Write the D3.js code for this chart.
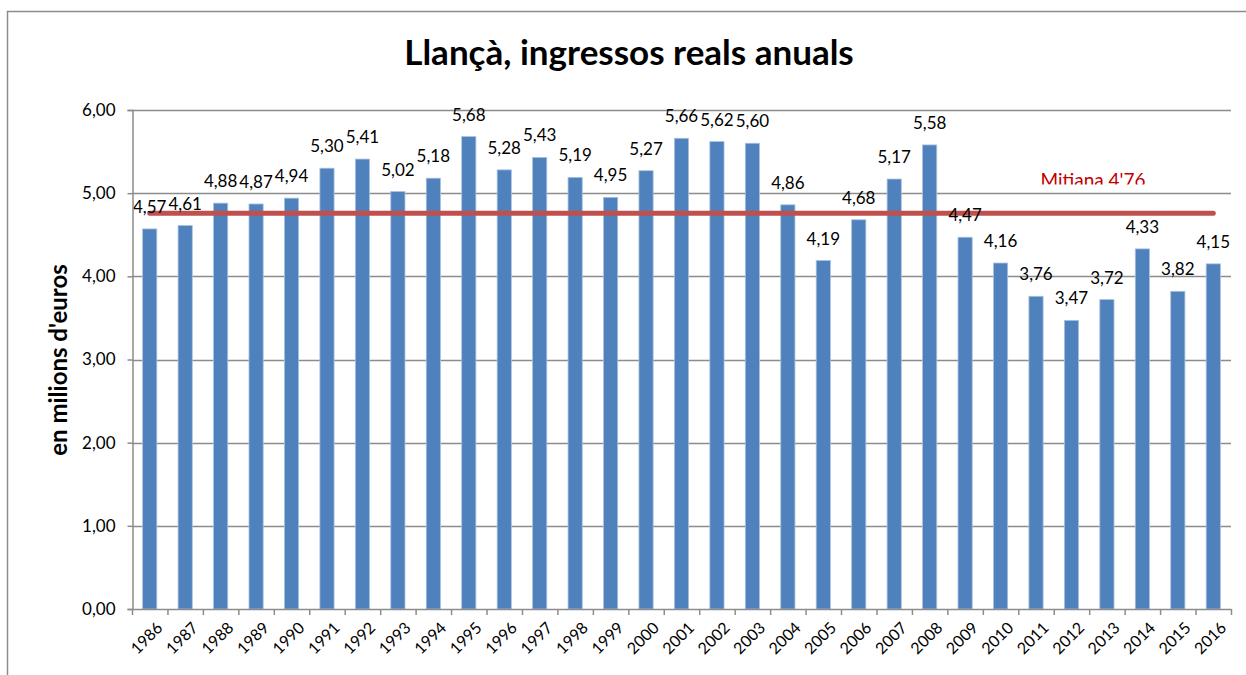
<!DOCTYPE html>
<html>
<head>
<meta charset="utf-8">
<script src="https://cdn.jsdelivr.net/npm/d3@7"></script>
<style>
  body { margin: 0; background: #fff; }
  text { font-family: Lato, "Open Sans", sans-serif; }
</style>
</head>
<body>
<div id="chart"></div>
<script>
var width  = 1246;
var height = 675;

// data
var years = ["1986","1987","1988","1989","1990","1991","1992","1993","1994","1995",
  "1996","1997","1998","1999","2000","2001","2002","2003","2004","2005","2006",
  "2007","2008","2009","2010","2011","2012","2013","2014","2015","2016"];
var ingressos = [4.57,4.61,4.88,4.87,4.94,5.30,5.41,5.02,5.18,5.68,
  5.28,5.43,5.19,4.95,5.27,5.66,5.62,5.60,4.86,4.19,4.68,
  5.17,5.58,4.47,4.16,3.76,3.47,3.72,4.33,3.82,4.15];
var mitjana = 4.76;
var yTicks = [0,1,2,3,4,5,6];

var margin = {left: 132, right: 15, top: 110, bottom: 66};

var svg = d3.select("#chart").append("svg")
  .attr("width", width)
  .attr("height", height);

// outer chart frame (only top & left visible)
svg.append("path")
  .attr("d", "M7.5,675 L7.5,11.5 L1246,11.5")
  .attr("fill", "none")
  .attr("stroke", "#8c8c8c")
  .attr("stroke-width", 1.5);

var x = d3.scaleBand()
  .domain(years)
  .range([margin.left, 1231])
  .paddingInner(0.6)
  .paddingOuter(0.3);

var y = d3.scaleLinear()
  .domain([0, 6])
  .range([609, margin.top]);

var fmt = function(v) { return d3.format(".2f")(v).replace(".", ","); };

// gridlines
svg.selectAll(".grid")
  .data(yTicks.slice(1))
  .enter().append("line")
  .attr("class", "grid")
  .attr("x1", margin.left).attr("x2", 1231)
  .attr("y1", function(d) { return Math.round(y(d)) + 0.5; })
  .attr("y2", function(d) { return Math.round(y(d)) + 0.5; })
  .attr("stroke", "#8c8c8c")
  .attr("stroke-width", 1.5);

// bars
svg.selectAll(".bar")
  .data(ingressos)
  .enter().append("rect")
  .attr("class", "bar")
  .attr("x", function(d, i) { return x(years[i]); })
  .attr("y", function(d) { return y(d); })
  .attr("width", x.bandwidth())
  .attr("height", function(d) { return y(0) - y(d); })
  .attr("fill", "#4f81bd")
  .attr("stroke", "#a9c1e0")
  .attr("stroke-width", 0.8);

// mean line
var line = d3.line()
  .x(function(d) { return x(d) + x.bandwidth() / 2; })
  .y(function() { return y(mitjana); });

svg.append("path")
  .datum(years)
  .attr("d", line)
  .attr("fill", "none")
  .attr("stroke", "#c0504d")
  .attr("stroke-width", 5)
  .attr("stroke-linecap", "round");

svg.append("clipPath").attr("id", "mclip")
  .append("rect").attr("x", 900).attr("y", 160).attr("width", 300).attr("height", 24.5);

svg.append("text")
  .attr("x", 1093)
  .attr("y", 186.5)
  .attr("text-anchor", "middle")
  .attr("clip-path", "url(#mclip)")
  .style("font-size", "19px")
  .style("fill", "#c00000")
  .text("Mitiana 4'76");

// value labels
svg.selectAll(".val")
  .data(ingressos)
  .enter().append("text")
  .attr("class", "val")
  .attr("x", function(d, i) { return x(years[i]) + x.bandwidth() / 2; })
  .attr("y", function(d) { return y(d) - 16; })
  .attr("text-anchor", "middle")
  .style("font-size", "17px")
  .style("fill", "#000")
  .text(fmt);

// y axis
var yAxis = d3.axisLeft(y)
  .tickValues(yTicks)
  .tickSize(5)
  .tickPadding(12)
  .tickFormat(fmt);

var gy = svg.append("g")
  .attr("transform", "translate(" + (margin.left + 0.5) + ",0)")
  .call(yAxis);
gy.select(".domain").attr("stroke", "#8c8c8c").attr("stroke-width", 1.5);
gy.selectAll(".tick line").attr("stroke", "#8c8c8c").attr("stroke-width", 1.5);
gy.selectAll(".tick text")
  .style("font-size", "17px")
  .style("font-family", "Lato, sans-serif")
  .attr("fill", "#000");

// x axis
svg.append("line")
  .attr("x1", margin.left).attr("x2", 1231.5)
  .attr("y1", 609.5).attr("y2", 609.5)
  .attr("stroke", "#8c8c8c")
  .attr("stroke-width", 1.5);

svg.selectAll(".xtick")
  .data(years.concat(["end"]))
  .enter().append("line")
  .attr("class", "xtick")
  .attr("x1", function(d, i) { return margin.left + i * (1231 - margin.left) / years.length + 0.5; })
  .attr("x2", function(d, i) { return margin.left + i * (1231 - margin.left) / years.length + 0.5; })
  .attr("y1", 609).attr("y2", 615)
  .attr("stroke", "#8c8c8c")
  .attr("stroke-width", 1.5);

svg.selectAll(".xlab")
  .data(years)
  .enter().append("text")
  .attr("class", "xlab")
  .attr("transform", function(d) {
    var cx = x(d) + x.bandwidth() / 2 + 6;
    return "translate(" + cx + ",621) rotate(-45)";
  })
  .attr("text-anchor", "end")
  .attr("dy", "0.7em")
  .style("font-size", "16px")
  .text(function(d) { return d; });

// title
svg.append("text")
  .attr("x", 629)
  .attr("y", 65)
  .attr("text-anchor", "middle")
  .style("font-size", "35px")
  .style("font-weight", "bold")
  .text("Llançà, ingressos reals anuals");

// y label
svg.append("text")
  .attr("transform", "translate(67,360) rotate(-90)")
  .attr("text-anchor", "middle")
  .style("font-size", "24px")
  .style("font-weight", "bold")
  .text("en milions d'euros");
</script>
</body>
</html>
